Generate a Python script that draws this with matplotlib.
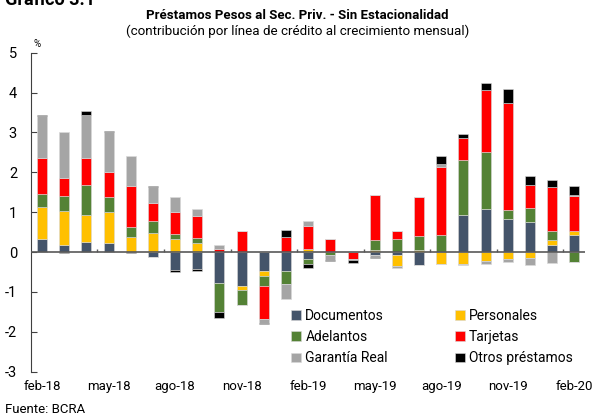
import numpy as np
import matplotlib
matplotlib.use("Agg")
import matplotlib.pyplot as plt

plt.rcParams["font.family"] = ["Roboto", "DejaVu Sans"]

# ---- data (contribución mensual, %) ----
months = ["feb-18", "mar-18", "abr-18", "may-18", "jun-18", "jul-18", "ago-18",
          "sep-18", "oct-18", "nov-18", "dic-18", "ene-19", "feb-19", "mar-19",
          "abr-19", "may-19", "jun-19", "jul-19", "ago-19", "sep-19", "oct-19",
          "nov-19", "dic-19", "ene-20", "feb-20"]

documentos = [0.32, 0.19, 0.25, 0.22, 0.00, -0.12, -0.44, -0.43, -0.77, -0.84, -0.47, -0.48, -0.18,
              0.00, 0.00, -0.07, -0.07, -0.32, 0.00, 0.93, 1.08, 0.82, 0.75, 0.19, 0.43]
personales = [0.81, 0.83, 0.67, 0.78, 0.37, 0.47, 0.33, 0.23, 0.00, -0.10, -0.12, 0.00, 0.08,
              0.01, 0.00, 0.06, -0.27, 0.05, -0.31, -0.29, -0.23, -0.17, -0.15, 0.11, 0.10]
adelantos = [0.33, 0.39, 0.75, 0.39, 0.25, 0.32, 0.13, 0.13, -0.74, -0.38, -0.27, -0.32, -0.11,
             -0.08, 0.00, 0.25, 0.33, 0.35, 0.43, 1.38, 1.43, 0.24, 0.36, 0.23, -0.25]
tarjetas = [0.89, 0.44, 0.69, 0.61, 1.04, 0.45, 0.54, 0.54, 0.07, 0.53, -0.81, 0.37, 0.57,
            0.33, -0.17, 1.12, 0.20, 0.97, 1.71, 0.55, 1.55, 2.67, 0.57, 1.11, 0.87]
garantia = [1.07, 1.16, 1.07, 1.02, 0.75, 0.38, 0.39, 0.17, 0.10, 0.00, -0.10, -0.38, 0.14,
            -0.12, -0.02, -0.05, -0.07, 0.00, 0.07, -0.04, -0.06, -0.08, -0.18, -0.27, 0.02]
otros = [0.01, -0.02, 0.12, 0.02, -0.03, 0.03, -0.06, -0.04, -0.15, 0.00, -0.03, 0.18, -0.12,
         -0.03, -0.08, -0.03, 0.00, 0.02, 0.20, 0.10, 0.19, 0.35, 0.24, 0.18, 0.23]

series = [
    ("Documentos", documentos, "#44546A"),
    ("Personales", personales, "#FFC000"),
    ("Adelantos", adelantos, "#548235"),
    ("Tarjetas", tarjetas, "#FF0000"),
    ("Garantía Real", garantia, "#A5A5A5"),
    ("Otros préstamos", otros, "#000000"),
]

fig = plt.figure(figsize=(5.95, 4.17), dpi=100)
ax = fig.add_axes([0.052, 0.1086, 0.932, 0.765])

x = np.arange(len(months))
pos_base = np.zeros(len(months))
neg_base = np.zeros(len(months))
handles = {}
for name, vals, col in series:
    v = np.array(vals)
    p = np.clip(v, 0, None)
    n = np.clip(v, None, 0)
    h = ax.bar(x, p, 0.45, bottom=pos_base, color=col, edgecolor="#d9d9d9", linewidth=0.4, zorder=2)
    ax.bar(x, n, 0.45, bottom=neg_base, color=col, edgecolor="#d9d9d9", linewidth=0.4, zorder=2)
    pos_base += p
    neg_base += n
    handles[name] = h

# zero line with small quarterly marks
ax.axhline(0, color="#595959", linewidth=1.2, zorder=3)
ax.vlines(np.arange(2.5, len(months), 3), 0, 0.08, color="#595959", linewidth=1.0, zorder=3)

ax.set_xlim(-0.5, len(months) - 0.5)
ax.set_ylim(-3, 5)
ax.set_yticks(range(-3, 6))
ax.set_yticklabels([str(v) for v in range(-3, 6)], fontsize=10.5)
ax.tick_params(axis="y", direction="in", length=4, width=0.8, pad=10, color="#404040")
ax.set_xticks(x[::3])
ax.set_xticklabels(months[::3], fontsize=9.5)
ax.tick_params(axis="x", length=0, pad=6)

for s in ["top", "right", "bottom"]:
    ax.spines[s].set_visible(False)
ax.spines["left"].set_color("#404040")
ax.spines["left"].set_linewidth(0.8)

ax.text(0.011, 1.012, "%", transform=ax.transAxes, fontsize=7, ha="center", va="bottom")

order = ["Documentos", "Adelantos", "Garantía Real", "Personales", "Tarjetas", "Otros préstamos"]
ax.legend([handles[k] for k in order], order, ncol=2, loc="lower right",
          bbox_to_anchor=(1.0, -0.019), frameon=False, fontsize=10,
          handlelength=0.7, handleheight=0.7, handletextpad=0.3,
          columnspacing=4.85, labelspacing=0.53)

fig.text(0.5, 0.963, "Préstamos Pesos al Sec. Priv. - Sin Estacionalidad",
         ha="center", va="center", fontsize=9.5, fontweight="bold")
fig.text(0.5, 0.925, "(contribución por línea de crédito al crecimiento mensual)",
         ha="center", va="center", fontsize=9.6)
fig.text(0.008, 1.0, "Gráfico 3.1", ha="left", va="center", fontsize=13, fontweight="bold")
fig.text(0.008, 0.018, "Fuente: BCRA", ha="left", va="center", fontsize=9.5)

fig.savefig("out.png", dpi=100)
